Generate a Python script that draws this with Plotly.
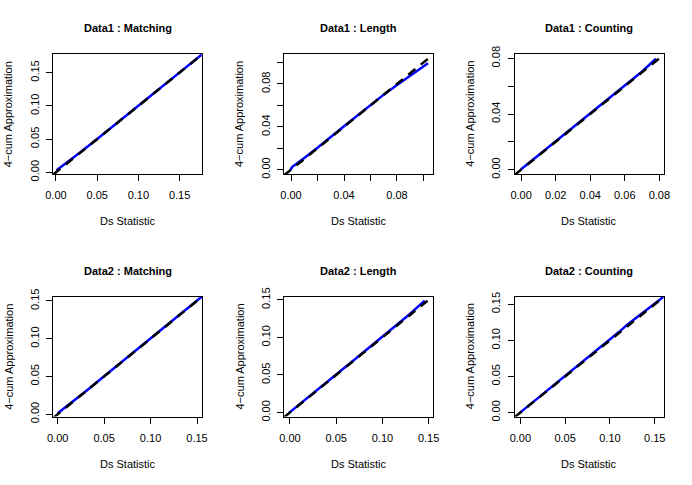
import plotly.graph_objects as go

W, H = 692, 485

# ---- data ----
titles = ["Data1 : Matching", "Data1 : Length", "Data1 : Counting",
          "Data2 : Matching", "Data2 : Length", "Data2 : Counting"]
x_label = "Ds Statistic"
y_label = "4\u2212cum Approximation"

ds_d1_matching = [0.0008, 0.01, 0.03, 0.05, 0.07, 0.09, 0.11, 0.13, 0.15, 0.1765]
approx_d1_matching = [0.0030, 0.0115, 0.0305, 0.0503, 0.0702, 0.0901, 0.1101, 0.1300, 0.1500, 0.1768]

ds_d1_length = [-0.0003, 0.0008, 0.01, 0.02, 0.04, 0.06, 0.07, 0.08, 0.09, 0.1034]
approx_d1_length = [0.0002, 0.0025, 0.0110, 0.0205, 0.0405, 0.0602, 0.0700, 0.0790, 0.0880, 0.0993]

ds_d1_counting = [0.0, 0.01, 0.02, 0.03, 0.04, 0.05, 0.06, 0.07, 0.078]
approx_d1_counting = [0.0003, 0.0103, 0.0203, 0.0303, 0.0403, 0.0503, 0.0603, 0.0705, 0.0797]

ds_d2_matching = [0.0, 0.01, 0.03, 0.05, 0.07, 0.09, 0.11, 0.13, 0.155]
approx_d2_matching = [0.0012, 0.0105, 0.0302, 0.0502, 0.0702, 0.0905, 0.1103, 0.1302, 0.1555]

ds_d2_length = [-0.001, 0.01, 0.03, 0.05, 0.07, 0.09, 0.11, 0.13, 0.1457]
approx_d2_length = [-0.0005, 0.0103, 0.0305, 0.0505, 0.0705, 0.0905, 0.1105, 0.1315, 0.1490]

ds_d2_counting = [-0.001, 0.01, 0.03, 0.05, 0.07, 0.09, 0.11, 0.12, 0.13, 0.16]
approx_d2_counting = [-0.0008, 0.0102, 0.0302, 0.0502, 0.0702, 0.0905, 0.1115, 0.1225, 0.1320, 0.1605]

ticks_005 = [0.0, 0.05, 0.10, 0.15]
ticks_005_text = ["0.00", "0.05", "0.10", "0.15"]
ticks_002_len = [0.0, 0.02, 0.04, 0.06, 0.08, 0.10]
ticks_002_len_text = ["0.00", "", "0.04", "", "0.08", ""]
ticks_002_cnt = [0.0, 0.02, 0.04, 0.06, 0.08]
ticks_002_cnt_xtext = ["0.00", "0.02", "0.04", "0.06", "0.08"]
ticks_002_cnt_ytext = ["0.00", "", "0.04", "", "0.08"]

series = [
    (ds_d1_matching, approx_d1_matching),
    (ds_d1_length, approx_d1_length),
    (ds_d1_counting, approx_d1_counting),
    (ds_d2_matching, approx_d2_matching),
    (ds_d2_length, approx_d2_length),
    (ds_d2_counting, approx_d2_counting),
]

# ---- layout settings ----
x_ranges = [[-0.0032, 0.1775], [-0.0053, 0.1072], [-0.0037, 0.0825],
            [-0.0047, 0.1557], [-0.0064, 0.1547], [-0.0063, 0.1600]]
y_ranges = [[-0.0025, 0.1780], [-0.0040, 0.1079], [-0.0031, 0.0831],
            [-0.0030, 0.1558], [-0.0053, 0.1544], [-0.0055, 0.1608]]
x_ticks = [(ticks_005, ticks_005_text), (ticks_002_len, ticks_002_len_text),
           (ticks_002_cnt, ticks_002_cnt_xtext),
           (ticks_005, ticks_005_text), (ticks_005, ticks_005_text), (ticks_005, ticks_005_text)]
y_ticks = [(ticks_005, ticks_005_text), (ticks_002_len, ticks_002_len_text),
           (ticks_002_cnt, ticks_002_cnt_ytext),
           (ticks_005, ticks_005_text), (ticks_005, ticks_005_text), (ticks_005, ticks_005_text)]

col_px = [(53.3, 202.3), (284.0, 433.0), (514.7, 663.7)]
row_px = [(54.0, 174.0), (296.5, 416.5)]

FONT = "Liberation Sans, Arial, Helvetica, sans-serif"

fig = go.Figure()
layout = dict(
    width=W, height=H,
    margin=dict(l=0, r=0, t=0, b=0, autoexpand=False),
    paper_bgcolor="white", plot_bgcolor="white",
    showlegend=False,
    font=dict(family=FONT, size=11, color="black"),
)
annotations = []

for i in range(6):
    r, c = divmod(i, 3)
    xs = "" if i == 0 else str(i + 1)
    xd = [col_px[c][0] / W, col_px[c][1] / W]
    yd = [1 - row_px[r][1] / H, 1 - row_px[r][0] / H]
    xr, yr = x_ranges[i], y_ranges[i]
    ax_common = dict(showgrid=False, zeroline=False, showline=True, mirror=True,
                     linecolor="black", linewidth=1, ticks="outside", ticklen=6,
                     tickwidth=1, tickcolor="black", automargin=False,
                     tickfont=dict(family=FONT, size=11, color="black"))
    layout["xaxis" + xs] = dict(domain=xd, range=xr, anchor="y" + xs,
                                tickmode="array", tickvals=x_ticks[i][0],
                                ticktext=x_ticks[i][1], ticklabelstandoff=5,
                                **ax_common)
    layout["yaxis" + xs] = dict(domain=yd, range=yr, anchor="x" + xs,
                                tickmode="array", tickvals=y_ticks[i][0],
                                ticktext=y_ticks[i][1], tickangle=-90,
                                ticklabelstandoff=3,
                                **ax_common)
    xdata, ydata = series[i]
    fig.add_trace(go.Scatter(x=xdata, y=ydata, mode="lines",
                             line=dict(color="#0000FF", width=2.5),
                             xaxis="x" + xs, yaxis="y" + xs, hoverinfo="skip"))
    lo = min(xr[0], yr[0])
    hi = max(xr[1], yr[1])
    fig.add_trace(go.Scatter(x=[lo, hi], y=[lo, hi], mode="lines",
                             line=dict(color="black", width=2.5, dash="9px,7px"),
                             xaxis="x" + xs, yaxis="y" + xs, hoverinfo="skip"))
    cx = (col_px[c][0] + col_px[c][1]) / 2
    annotations.append(dict(text="<b>" + titles[i] + "</b>", x=cx / W,
                            y=1 - (row_px[r][0] - 26) / H, xref="paper", yref="paper",
                            showarrow=False, xanchor="center", yanchor="middle",
                            font=dict(family=FONT, size=11, color="black")))
    annotations.append(dict(text=x_label, x=cx / W,
                            y=1 - (row_px[r][1] + 47) / H, xref="paper", yref="paper",
                            showarrow=False, xanchor="center", yanchor="middle",
                            font=dict(family=FONT, size=11, color="black")))
    cy = (row_px[r][0] + row_px[r][1]) / 2
    annotations.append(dict(text=y_label, x=(col_px[c][0] - 45) / W,
                            y=1 - cy / H, xref="paper", yref="paper", textangle=-90,
                            showarrow=False, xanchor="center", yanchor="middle",
                            font=dict(family=FONT, size=11, color="black")))

layout["annotations"] = annotations
fig.update_layout(**layout)
fig.write_html("out.html", config={"displayModeBar": False},
               post_script="document.body.style.margin='0';document.body.style.padding='0';")
